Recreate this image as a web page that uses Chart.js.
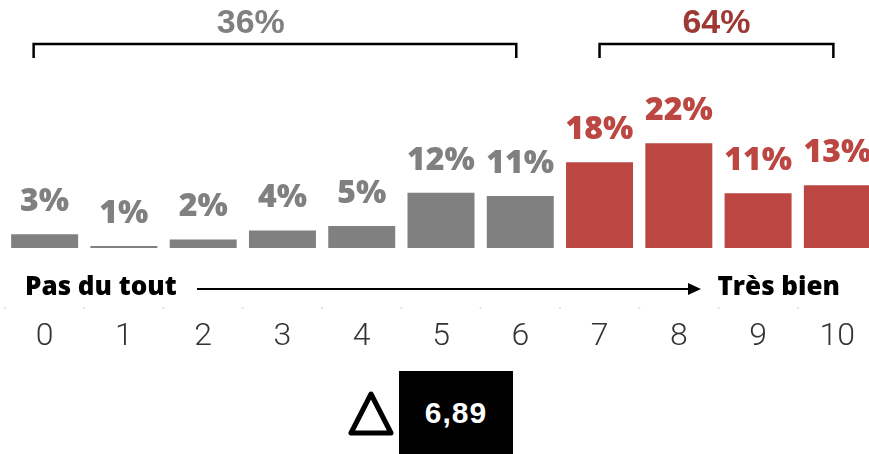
<!DOCTYPE html>
<html>
<head>
<meta charset="utf-8">
<script src="https://cdn.jsdelivr.net/npm/chart.js@4"></script>
<style>
  html, body { margin: 0; padding: 0; background: #fff; overflow: hidden; }
  #wrap { position: absolute; left: 0; top: 0; width: 869px; height: 454px; overflow: hidden; }
  #scoreChart { position: absolute; left: 0; top: 0; }
  #tri { position: absolute; left: 346px; top: 386px; }
  #mean {
    position: absolute; left: 399px; top: 371px; width: 114px; height: 83px;
    background: #000; color: #fff; font: bold 30px "Liberation Sans", Arial, sans-serif;
    letter-spacing: 1px;
    display: flex; align-items: center; justify-content: center;
  }
</style>
</head>
<body>
<div id="wrap">
  <canvas id="scoreChart" width="878" height="454"></canvas>
  <svg id="tri" width="52" height="52">
    <polygon points="5,47 45,47 25,8" fill="none" stroke="#000" stroke-width="5" stroke-linejoin="round"/>
  </svg>
  <div id="mean">6,89</div>
</div>
<script>
// === Data ===
const scores = ['0', '1', '2', '3', '4', '5', '6', '7', '8', '9', '10'];
const shares = [2.9, 0.4, 1.8, 3.7, 4.6, 11.6, 10.9, 18, 22, 11.5, 13.2];
const shareLabels = ['3%', '1%', '2%', '4%', '5%', '12%', '11%', '18%', '22%', '11%', '13%'];
const groupLabels = ['36%', '64%'];
const groupFrom = [0, 7];
const groupTo = [6, 10];

const GREY = '#808080';
const RED = '#bc4742';
const groupColors = [GREY, '#9e3833'];

const barColors = scores.map((s, i) => i <= 6 ? GREY : RED);

const overlay = {
    id: 'overlay',
    afterDatasetsDraw(chart) {
        const ctx = chart.ctx;
        const x = chart.scales.x;
        const bars = chart.getDatasetMeta(0).data;

        // value labels
        ctx.save();
        ctx.font = '800 32px "Open Sans", sans-serif';
        ctx.textAlign = 'center';
        ctx.textBaseline = 'alphabetic';
        bars.forEach((bar, i) => {
            ctx.fillStyle = barColors[i];
            ctx.fillText(shareLabels[i], bar.x, bar.y - 23);
        });

        // brackets with totals
        ctx.strokeStyle = '#000';
        ctx.lineWidth = 2.5;
        ctx.font = 'bold 34px "Liberation Sans", Arial, sans-serif';
        groupLabels.forEach((lab, g) => {
            const x0 = x.getPixelForValue(groupFrom[g]) - (g === 0 ? 11 : 0);
            const x1 = x.getPixelForValue(groupTo[g]) - 4;
            ctx.beginPath();
            ctx.moveTo(x0, 58);
            ctx.lineTo(x0, 44);
            ctx.lineTo(x1, 44);
            ctx.lineTo(x1, 58);
            ctx.stroke();
            const cx = g === 0 ? x.getPixelForValue(2.6) : (x0 + x1) / 2;
            ctx.fillStyle = groupColors[g];
            ctx.fillText(lab, cx, 33);
        });

        // scale direction
        ctx.fillStyle = '#000';
        ctx.font = '800 26px "Open Sans", sans-serif';
        ctx.textBaseline = 'alphabetic';
        ctx.textAlign = 'left';
        ctx.fillText('Pas du tout', 25, 295);
        ctx.textAlign = 'right';
        ctx.fillText('Très bien', 840, 295);
        ctx.lineWidth = 2;
        ctx.beginPath();
        ctx.moveTo(197, 289);
        ctx.lineTo(690, 289);
        ctx.stroke();
        ctx.beginPath();
        ctx.moveTo(701, 289);
        ctx.lineTo(688, 283);
        ctx.lineTo(688, 295);
        ctx.closePath();
        ctx.fill();

        // faint separators
        ctx.fillStyle = '#e4e4e4';
        for (let i = 0; i <= scores.length; i++) {
            const px = x.left + i * (x.width / scores.length);
            ctx.fillRect(px - 1, 307, 2, 2);
        }
        ctx.restore();
    }
};

new Chart(document.getElementById('scoreChart'), {
    type: 'bar',
    data: {
        labels: scores,
        datasets: [{
            data: shares,
            backgroundColor: barColors,
            barPercentage: 0.845,
            categoryPercentage: 1
        }]
    },
    options: {
        responsive: false,
        animation: false,
        layout: { padding: { left: 5, right: 1, top: 0, bottom: 0 } },
        plugins: { legend: { display: false }, tooltip: { enabled: false } },
        scales: {
            x: {
                afterFit(scale) { scale.height = 206; },
                grid: { display: true, drawOnChartArea: false, tickLength: 70, color: 'rgba(0,0,0,0)' },
                border: { display: false },
                ticks: {
                    padding: 0,
                    color: '#333',
                    font: { family: 'Roboto', size: 32, weight: 300 }
                }
            },
            y: { display: false, min: 0, max: 52.1 }
        }
    },
    plugins: [overlay]
});
</script>
</body>
</html>
